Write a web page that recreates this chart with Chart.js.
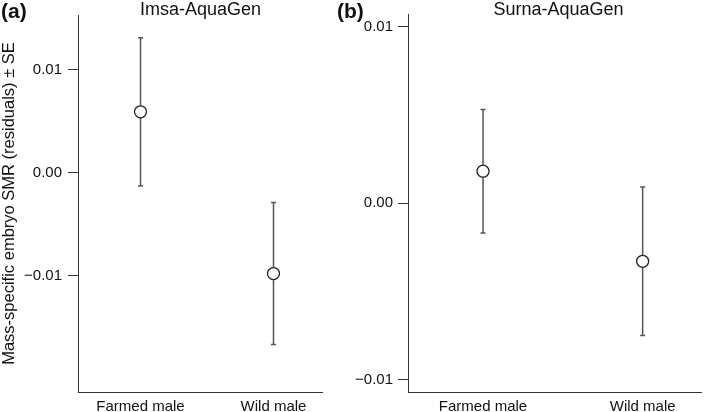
<!DOCTYPE html>
<html>
<head>
<meta charset="utf-8">
<script src="https://cdn.jsdelivr.net/npm/chart.js@4.4.1/dist/chart.umd.min.js"></script>
<style>
    html, body {
        margin: 0;
        padding: 0;
        background: #ffffff;
    }

    #wrap {
        position: relative;
        width: 709px;
        height: 412px;
        overflow: hidden;
        font-family: "Liberation Sans", Arial, sans-serif;
        color: #111;
    }

    canvas {
        position: absolute;
        top: 0;
    }

    #chartA { left: 0; }
    #chartB { left: 330px; }

    .panel-tag {
        position: absolute;
        top: 0;
        font-size: 21px;
        line-height: 21px;
        font-weight: bold;
        z-index: 2;
    }

    .panel-title {
        position: absolute;
        top: 0;
        font-size: 18px;
        line-height: 18px;
        text-align: center;
        z-index: 2;
    }
</style>
</head>
<body>

<div id="wrap">
    <canvas id="chartA" width="330" height="412"></canvas>
    <canvas id="chartB" width="379" height="412"></canvas>

    <div class="panel-tag" style="left:1px;">(a)</div>
    <div class="panel-title" style="left:78px; width:245px;">Imsa-AquaGen</div>

    <div class="panel-tag" style="left:337px;">(b)</div>
    <div class="panel-title" style="left:408px; width:301px;">Surna-AquaGen</div>
</div>

<script>

// =====================================
// DATA
// =====================================

const categories = ["Farmed male", "Wild male"];

// Imsa-AquaGen (a)
const imsaMean = [0.0059, -0.0098];
const imsaSE = [0.0072, 0.0069];
const imsaTicks = [-0.01, 0, 0.01];
const imsaTickLabels = ["\u22120.01", "0.00", "0.01"];

// Surna-AquaGen (b)
const surnaMean = [0.0018, -0.0033];
const surnaSE = [0.0035, 0.0042];
const surnaTicks = [-0.01, 0, 0.01];
const surnaTickLabels = ["\u22120.01", "0.00", "0.01"];

const yTitle = "Mass-specific embryo SMR (residuals) \u00b1 SE";

// =====================================
// STYLE
// =====================================

const AXIS = "#333333";
const BAR = "#555555";
const FONT = "'Liberation Sans', Arial, sans-serif";

// =====================================
// ERROR BAR PLUGIN
// =====================================

const errorBars = {

    id: "errorBars",

    beforeDatasetsDraw(chart, args, opts) {

        const { ctx, scales } = chart;
        const x = scales.x;
        const y = scales.y;

        ctx.save();
        ctx.strokeStyle = BAR;
        ctx.lineWidth = 1.5;

        opts.mean.forEach((m, i) => {

            const px = x.getPixelForValue(i + 1);
            const top = y.getPixelForValue(m + opts.se[i]);
            const bot = y.getPixelForValue(m - opts.se[i]);

            ctx.beginPath();
            ctx.moveTo(px, top);
            ctx.lineTo(px, bot);
            ctx.moveTo(px - 2.5, top);
            ctx.lineTo(px + 2.5, top);
            ctx.moveTo(px - 2.5, bot);
            ctx.lineTo(px + 2.5, bot);
            ctx.stroke();

        });

        ctx.restore();
    }
};

// =====================================
// BUILD PANEL
// =====================================

function makePanel(canvasId, mean, se, yMin, yMax, ticks, tickLabels, opts) {

    const points = mean.map((m, i) => ({ x: i + 1, y: m }));

    return new Chart(document.getElementById(canvasId), {
        type: "scatter",
        data: {
            datasets: [{
                data: points,
                pointRadius: 6,
                pointHoverRadius: 6,
                pointBackgroundColor: "#ffffff",
                pointBorderColor: "#222222",
                pointBorderWidth: 1.3
            }]
        },
        plugins: [errorBars],
        options: {
            responsive: false,
            animation: false,
            layout: {
                padding: { top: 13, right: opts.padRight, bottom: 0, left: 0 }
            },
            plugins: {
                legend: { display: false },
                tooltip: { enabled: false },
                errorBars: { mean: mean, se: se }
            },
            scales: {
                x: {
                    type: "linear",
                    min: 0.53,
                    max: 2.37,
                    afterBuildTicks: (scale) => {
                        scale.ticks = categories.map((c, i) => ({ value: i + 1 }));
                    },
                    afterFit: (scale) => {
                        scale.height = 20;
                    },
                    ticks: {
                        padding: 6,
                        color: "#111",
                        font: { family: FONT, size: 15 },
                        callback: (v) => categories[v - 1]
                    },
                    grid: {
                        display: true,
                        drawOnChartArea: false,
                        drawTicks: false
                    },
                    border: { display: true, color: AXIS, width: 1 }
                },
                y: {
                    min: yMin,
                    max: yMax,
                    afterBuildTicks: (scale) => {
                        scale.ticks = ticks.map(v => ({ value: v }));
                    },
                    afterFit: (scale) => {
                        scale.width = 78;
                    },
                    ticks: {
                        padding: opts.tickPad,
                        color: "#111",
                        font: { family: FONT, size: 15 },
                        callback: (v) => tickLabels[ticks.indexOf(v)]
                    },
                    grid: {
                        display: true,
                        drawOnChartArea: false,
                        drawTicks: true,
                        tickLength: 10,
                        color: AXIS
                    },
                    border: { display: true, color: AXIS, width: 1 },
                    title: {
                        display: opts.showTitle,
                        text: yTitle,
                        color: "#111",
                        padding: 0,
                        font: { family: FONT, size: 16.5 }
                    }
                }
            }
        }
    });
}

// =====================================
// CHARTS
// =====================================

makePanel("chartA", imsaMean, imsaSE, -0.0213, 0.0153, imsaTicks, imsaTickLabels,
    { padRight: 7, tickPad: 6, showTitle: true });

makePanel("chartB", surnaMean, surnaSE, -0.0107, 0.0107, surnaTicks, surnaTickLabels,
    { padRight: 0, tickPad: 5, showTitle: false });

</script>
</body>
</html>
